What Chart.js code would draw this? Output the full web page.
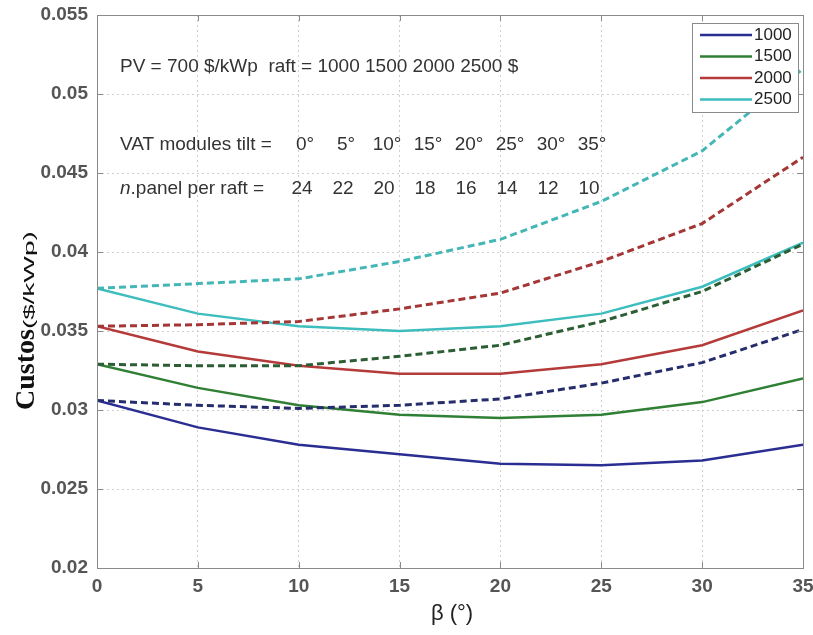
<!DOCTYPE html>
<html>
<head>
<meta charset="utf-8">
<title>Custos vs β</title>
<script src="https://cdn.jsdelivr.net/npm/chart.js@4.4.1/dist/chart.umd.min.js"></script>
<style>
  html, body { margin: 0; padding: 0; background: #fff; }
  #costChart { display: block; }
</style>
</head>
<body>
<canvas id="costChart" width="813" height="635"></canvas>
<script>
// tilt angle beta (deg) on the x axis
const tiltAngles = [0, 5, 10, 15, 20, 25, 30, 35];
const raftCosts = ['1000', '1500', '2000', '2500'];

// solid curves, one per raft cost
const solid1000 = [0.0306, 0.0289, 0.0278, 0.0272, 0.0266, 0.0265, 0.0268, 0.0278];
const solid1500 = [0.0329, 0.0314, 0.0303, 0.0297, 0.0295, 0.0297, 0.0305, 0.0320];
const solid2000 = [0.0353, 0.0337, 0.0328, 0.0323, 0.0323, 0.0329, 0.0341, 0.0363];
const solid2500 = [0.0377, 0.0361, 0.0353, 0.0350, 0.0353, 0.0361, 0.0378, 0.0406];

// dashed curves, one per raft cost
const dashed1000 = [0.0306, 0.0303, 0.0301, 0.0303, 0.0307, 0.0317, 0.0330, 0.0351];
const dashed1500 = [0.0329, 0.0328, 0.0328, 0.0334, 0.0341, 0.0356, 0.0375, 0.0405];
const dashed2000 = [0.0353, 0.0354, 0.0356, 0.0364, 0.0374, 0.0394, 0.0418, 0.0460];
const dashed2500 = [0.0377, 0.0380, 0.0383, 0.0394, 0.0408, 0.0432, 0.0464, 0.0516];

// text block in the upper left
const headerLine = 'PV = 700 $/kWp  raft = 1000 1500 2000 2500 $';
const tiltLabels = ['0°', '5°', '10°', '15°', '20°', '25°', '30°', '35°'];
const panelCounts = ['24', '22', '20', '18', '16', '14', '12', '10'];

const solidColors = ['#2a2d92', '#2f7f34', '#b53a3a', '#3dbdbd'];
const dashedColors = ['#262d6c', '#2c5e34', '#a53636', '#45b6b6'];
const solidSeries = [solid1000, solid1500, solid2000, solid2500];
const dashedSeries = [dashed1000, dashed1500, dashed2000, dashed2500];

function toPoints(values) {
    return tiltAngles.map((x, i) => ({x: x, y: values[i]}));
}

const datasets = [];
dashedSeries.forEach((values, i) => {
    datasets.push({
        label: raftCosts[i] + ' dashed',
        data: toPoints(values),
        borderColor: dashedColors[i],
        borderWidth: 3,
        borderDash: [7, 4],
        inLegend: false
    });
});
solidSeries.forEach((values, i) => {
    datasets.push({
        label: raftCosts[i],
        data: toPoints(values),
        borderColor: solidColors[i],
        borderWidth: 2.5,
        inLegend: true
    });
});

const tickFont = {family: 'Liberation Sans, Arial, sans-serif', size: 19, weight: 'bold'};

// box around the plot with matlab style ticks pointing inwards
const frame = {
    id: 'frame',
    afterDraw(chart) {
        const {ctx, chartArea: a, scales: {x, y}} = chart;
        ctx.save();
        ctx.strokeStyle = '#8a8a8a';
        ctx.lineWidth = 1;
        ctx.beginPath();
        x.ticks.forEach(t => {
            const px = Math.round(x.getPixelForValue(t.value)) + 0.5;
            ctx.moveTo(px, a.bottom); ctx.lineTo(px, a.bottom - 6);
            ctx.moveTo(px, a.top); ctx.lineTo(px, a.top + 6);
        });
        y.ticks.forEach(t => {
            const py = Math.round(y.getPixelForValue(t.value)) + 0.5;
            ctx.moveTo(a.left, py); ctx.lineTo(a.left + 6, py);
            ctx.moveTo(a.right, py); ctx.lineTo(a.right - 6, py);
        });
        ctx.stroke();
        ctx.strokeRect(Math.round(a.left) + 0.5, Math.round(a.top) + 0.5,
            Math.round(a.right - a.left), Math.round(a.bottom - a.top));
        ctx.restore();
    }
};

// legend box with the solid lines only
const legendBox = {
    id: 'legendBox',
    afterDraw(chart) {
        const {ctx, chartArea: a} = chart;
        const left = a.right - 111, top = a.top + 8, w = 106, h = 89;
        ctx.save();
        ctx.fillStyle = '#fff';
        ctx.fillRect(left, top, w, h);
        ctx.strokeStyle = '#8a8a8a';
        ctx.lineWidth = 1;
        ctx.strokeRect(left + 0.5, top + 0.5, w, h);
        ctx.font = '17px Liberation Sans, Arial, sans-serif';
        ctx.textBaseline = 'middle';
        ctx.textAlign = 'left';
        let row = 0;
        chart.data.datasets.forEach(ds => {
            if (!ds.inLegend) return;
            const cy = top + 12 + row * 21.5;
            ctx.strokeStyle = ds.borderColor;
            ctx.lineWidth = 2.5;
            ctx.beginPath();
            ctx.moveTo(left + 8, cy);
            ctx.lineTo(left + 60, cy);
            ctx.stroke();
            ctx.fillStyle = '#222';
            ctx.fillText(ds.label, left + 62, cy);
            row++;
        });
        ctx.restore();
    }
};

// parameter notes and axis titles
const notes = {
    id: 'notes',
    afterDraw(chart) {
        const {ctx, chartArea: a} = chart;
        const font = 'Liberation Sans, Arial, sans-serif';
        ctx.save();
        ctx.fillStyle = '#333';
        ctx.textBaseline = 'middle';
        ctx.textAlign = 'left';
        ctx.font = '19px ' + font;
        const x0 = a.left + 23;
        ctx.fillText(headerLine, x0, a.top + 52);
        ctx.fillText('VAT modules tilt =', x0, a.top + 130);
        ctx.font = 'italic 19px ' + font;
        ctx.fillText('n', x0, a.top + 174);
        const nw = ctx.measureText('n').width;
        ctx.font = '19px ' + font;
        ctx.fillText('.panel per raft =', x0 + nw, a.top + 174);
        ctx.textAlign = 'center';
        tiltLabels.forEach((t, i) => {
            ctx.fillText(t, a.left + 208 + i * 41, a.top + 130);
        });
        panelCounts.forEach((n, i) => {
            ctx.fillText(n, a.left + 205 + i * 41, a.top + 174);
        });

        // x axis title
        ctx.fillStyle = '#222';
        ctx.font = '22px ' + font;
        ctx.fillText('β (°)', (a.left + a.right) / 2 + 2, 614);

        // y axis title: serif "Custos" followed by a small stretched unit
        ctx.translate(34, 410);
        ctx.rotate(-Math.PI / 2);
        ctx.textAlign = 'left';
        ctx.textBaseline = 'alphabetic';
        ctx.fillStyle = '#111';
        ctx.font = 'bold 28px Liberation Serif, Times New Roman, serif';
        ctx.fillText('Custos', 0, 0);
        const cw = ctx.measureText('Custos').width;
        ctx.translate(cw, 0);
        ctx.scale(2, 1);
        ctx.font = '14px ' + font;
        ctx.fillText('($/kWp)', 0, 0);
        ctx.restore();
    }
};

const ctx = document.getElementById('costChart').getContext('2d');
const costChart = new Chart(ctx, {
    type: 'line',
    data: {datasets: datasets},
    options: {
        responsive: false,
        animation: false,
        devicePixelRatio: 1,
        layout: {padding: {top: 15, right: 10, left: 0, bottom: 0}},
        elements: {
            point: {radius: 0},
            line: {tension: 0, fill: false}
        },
        plugins: {
            legend: {display: false},
            tooltip: {enabled: false}
        },
        scales: {
            x: {
                type: 'linear',
                min: 0,
                max: 35,
                ticks: {stepSize: 5, font: tickFont, color: '#555', padding: 7},
                grid: {color: '#cfcfcf', drawTicks: false},
                border: {display: false, dash: [2, 3]},
                afterFit: s => {
                    s.height = 67;
                    s.paddingLeft = 0;
                    s.paddingRight = 0;
                }
            },
            y: {
                min: 0.02,
                max: 0.055,
                ticks: {
                    stepSize: 0.005,
                    font: tickFont,
                    color: '#555',
                    padding: 9,
                    callback: v => String(Number(v.toFixed(3)))
                },
                grid: {color: '#cfcfcf', drawTicks: false},
                border: {display: false, dash: [2, 3]},
                afterFit: s => {
                    s.width = 97;
                    s.paddingTop = 0;
                    s.paddingBottom = 0;
                }
            }
        }
    },
    plugins: [frame, legendBox, notes]
});
</script>
</body>
</html>
